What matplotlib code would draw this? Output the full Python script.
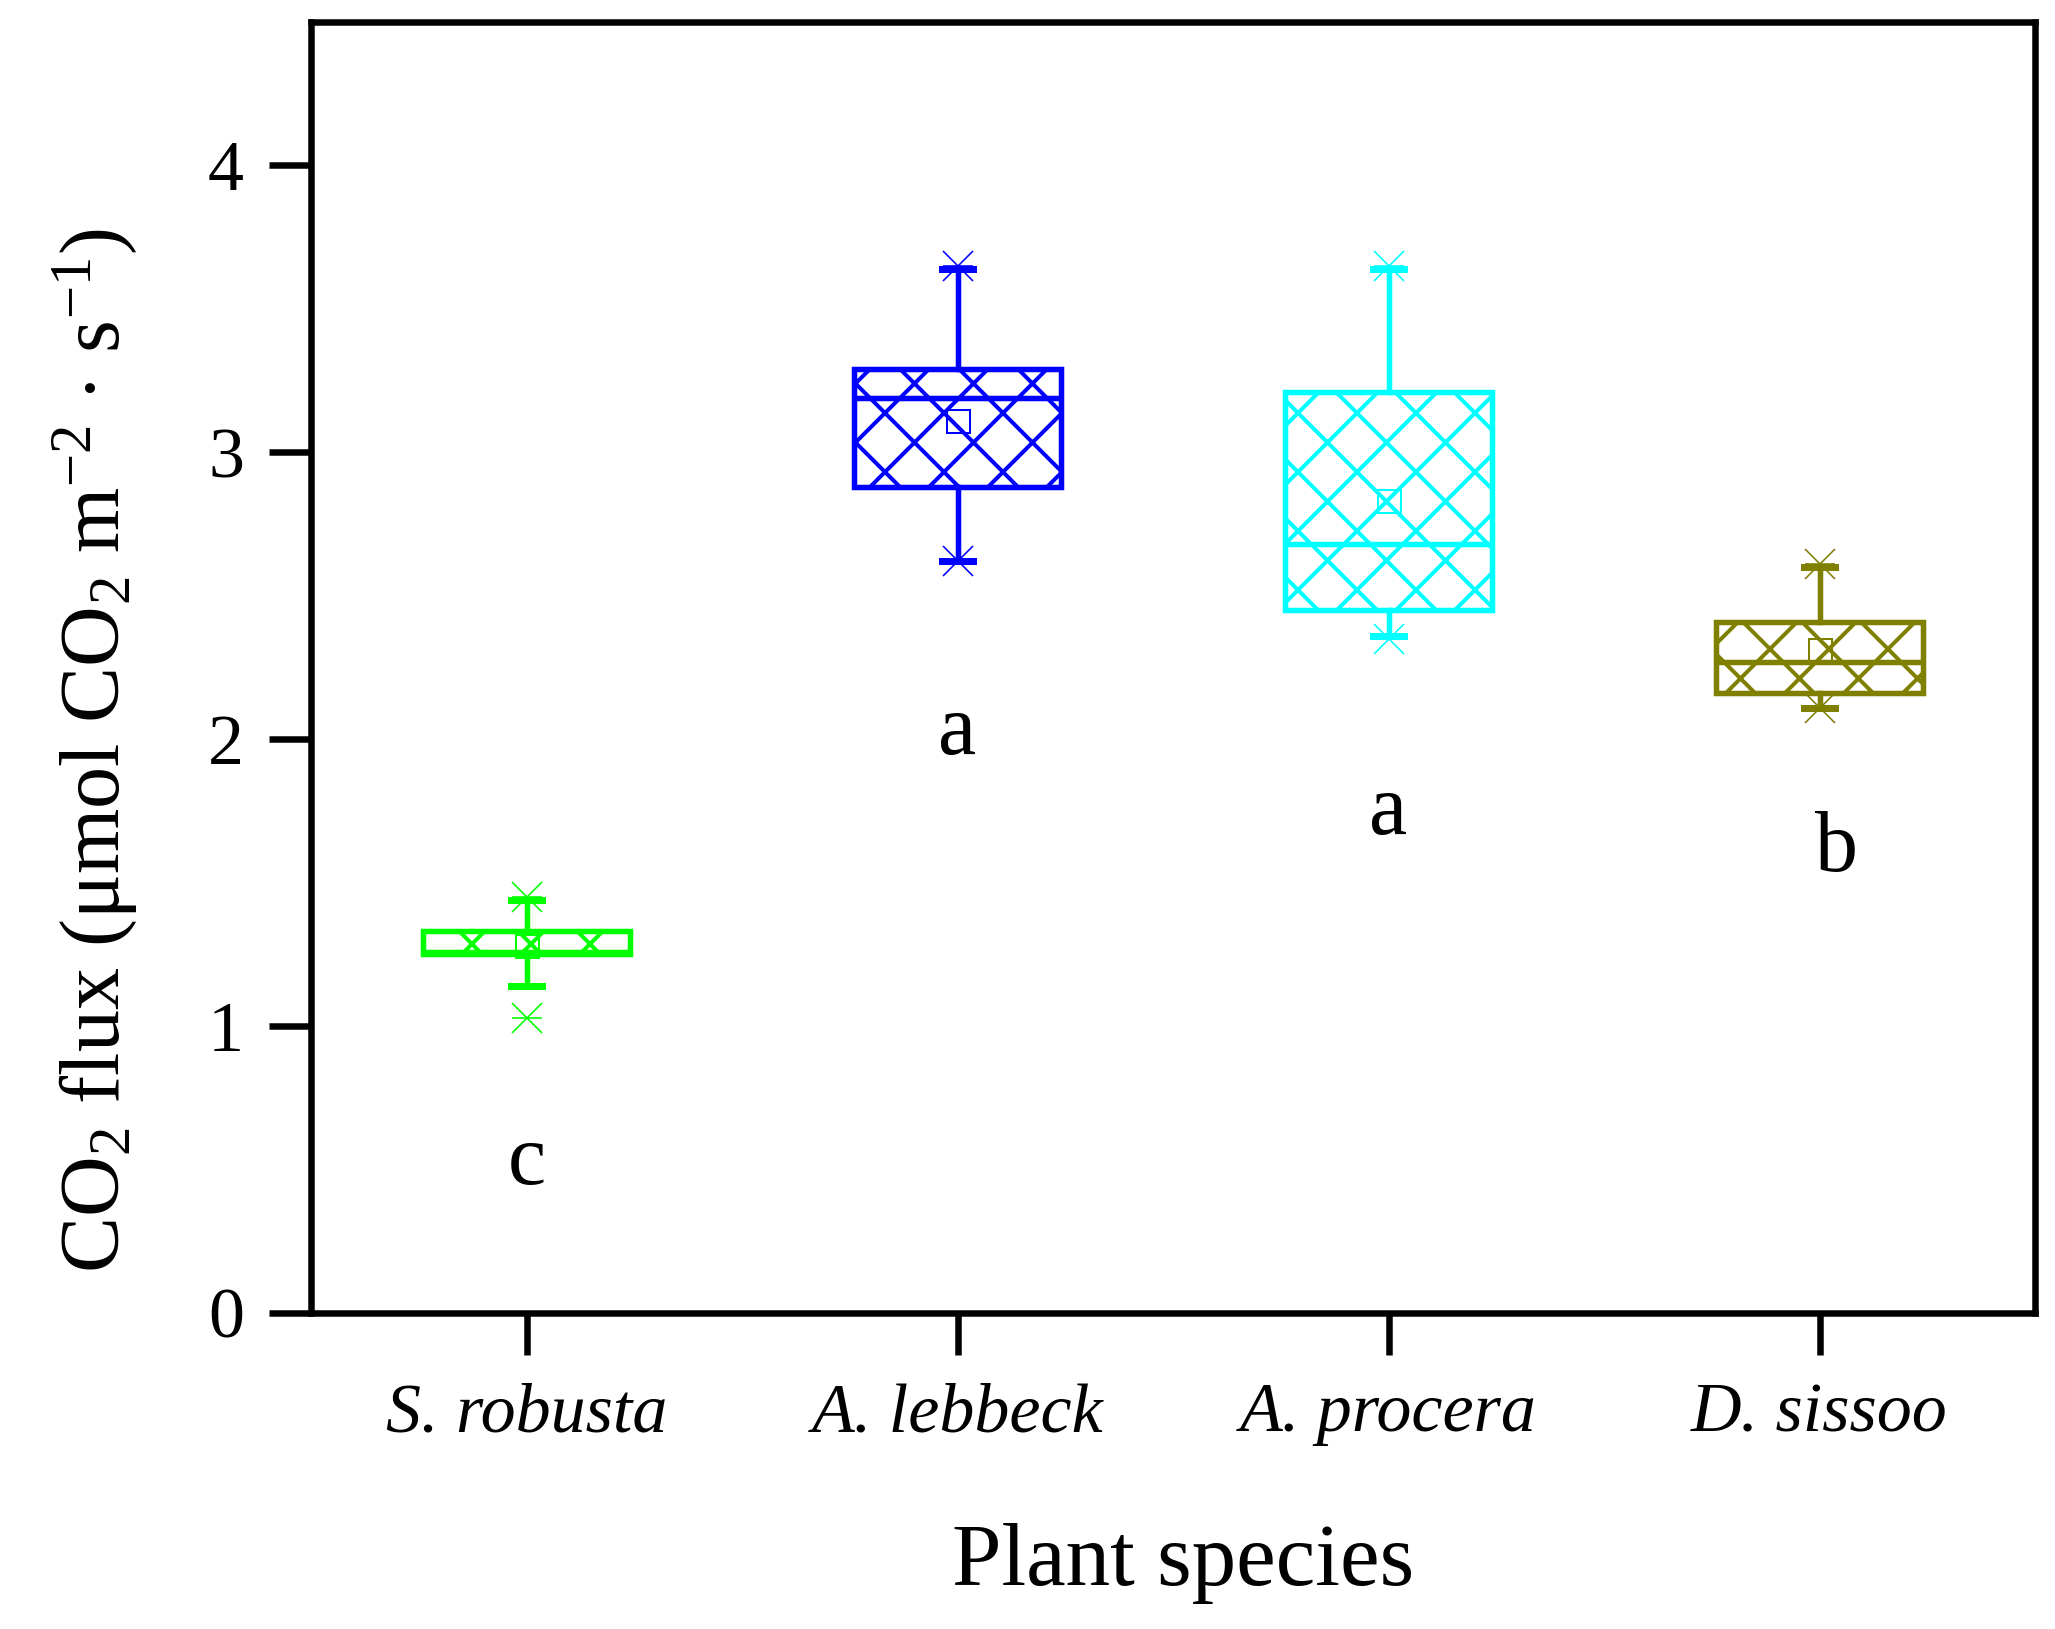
import matplotlib
matplotlib.use("Agg")
import matplotlib.pyplot as plt

# hatch cell is tied to dpi, so dpi sets the hatch spacing
DPI = 354
W, H = 2055, 1629


def px(v):
    # pixels -> points at this dpi
    return v * 72.0 / DPI


species = ["S. robusta", "A. lebbeck", "A. procera", "D. sissoo"]
colors = ["#00ff00", "#0000ff", "#00ffff", "#808000"]
q1 = [1.25, 2.88, 2.45, 2.16]
q3 = [1.33, 3.29, 3.21, 2.41]
median = [1.26, 3.19, 2.68, 2.27]
mean = [1.28, 3.11, 2.83, 2.31]
whis_lo = [1.14, 2.62, 2.36, 2.11]
whis_hi = [1.44, 3.64, 3.64, 2.60]
min_val = [1.03, 2.62, 2.35, 2.11]
max_val = [1.45, 3.65, 3.65, 2.61]
letters = ["c", "a", "a", "b"]
letter_y = [0.45, 1.95, 1.67, 1.54]

plt.rcParams['font.family'] = 'Liberation Serif'
plt.rcParams['mathtext.fontset'] = 'custom'
plt.rcParams['mathtext.rm'] = 'Liberation Serif'
plt.rcParams['mathtext.it'] = 'Liberation Serif:italic'
plt.rcParams['hatch.linewidth'] = px(4)

fig = plt.figure(figsize=(W / DPI, H / DPI), dpi=DPI)
ax = fig.add_axes([311 / W, 1 - 1313 / H, (2035 - 311) / W, (1313 - 22) / H])

pos = [1, 2, 3, 4]
for i in range(len(species)):
    c = colors[i]
    st = dict(med=median[i], q1=q1[i], q3=q3[i], whislo=whis_lo[i],
              whishi=whis_hi[i], mean=mean[i], fliers=[])
    ax.bxp([st], positions=[pos[i]], widths=0.48, capwidths=0.07,
           patch_artist=True, showmeans=True, showfliers=False,
           boxprops=dict(facecolor='none', edgecolor=c, linewidth=px(5.5), hatch='xx'),
           medianprops=dict(color=c, linewidth=px(5.5)),
           whiskerprops=dict(color=c, linewidth=px(5.5)),
           capprops=dict(color=c, linewidth=px(7)),
           meanprops=dict(marker='s', markerfacecolor='none', markeredgecolor=c,
                          markersize=px(23), markeredgewidth=px(2)))
    # min / max symbols
    ax.plot([pos[i], pos[i]], [min_val[i], max_val[i]], linestyle='none', marker='x',
            color=c, markersize=px(30), markeredgewidth=px(1.6))
    ax.plot([pos[i], pos[i]], [min_val[i], max_val[i]], linestyle='none', marker='_',
            color=c, markersize=px(30), markeredgewidth=px(1.6))
    ax.text(pos[i] + (0.04 if i == 3 else 0.0), letter_y[i], letters[i],
            ha='center', va='baseline', fontsize=px(86))

ax.set_xlim(0.5, 4.5)
ax.set_ylim(0, 4.5)
ax.set_xticks(pos)
ax.set_xticklabels(species, style='italic')
ax.set_yticks([0, 1, 2, 3, 4])
ax.tick_params(direction='out', length=px(42), width=px(6.5), top=False, right=False)
ax.tick_params(axis='x', pad=px(28), labelsize=px(70))
ax.tick_params(axis='y', pad=px(25), labelsize=px(72))
for s in ax.spines.values():
    s.set_linewidth(px(6.5))

ax.set_xlabel('Plant species', fontsize=px(89))
ax.xaxis.set_label_coords(0.506, -0.163)
ax.set_ylabel(r'CO$_2$ flux (μmol CO$_2$ m$^{-2}$ · s$^{-1}$)', fontsize=px(84))
ax.yaxis.set_label_coords(-0.100, 0.436)

fig.savefig('out.png', dpi=DPI)
